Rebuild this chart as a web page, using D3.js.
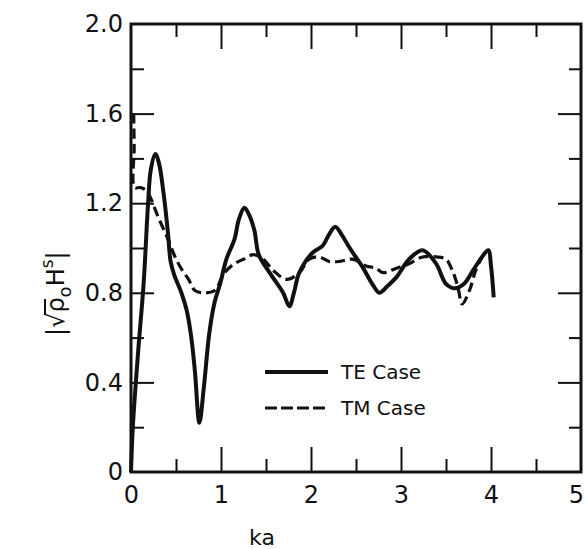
<!DOCTYPE html>
<html>
<head>
<meta charset="utf-8">
<script src="https://cdn.jsdelivr.net/npm/d3@7"></script>
<style>
body { margin: 0; background: #fff; }
svg { display: block; }
text { font-family: "DejaVu Sans", sans-serif; fill: #111; }
</style>
</head>
<body>
<div></div>
<script>
// TE case (solid)
var kaTE = [0, 0.02, 0.08, 0.14, 0.19, 0.22, 0.27, 0.31, 0.36, 0.41, 0.44, 0.48, 0.56, 0.62, 0.67, 0.71, 0.76,
	0.81, 0.87, 0.93, 0.99, 1.06, 1.15, 1.2, 1.26, 1.31, 1.37, 1.42, 1.54, 1.69, 1.76, 1.81, 1.87, 2.02, 2.13,
	2.2, 2.27, 2.34, 2.43, 2.58, 2.68, 2.76, 2.85, 2.95, 3.09, 3.24, 3.39, 3.5, 3.6, 3.7, 3.8, 3.9, 3.97, 4.0, 4.03];
var valTE = [0, 0.2, 0.54, 0.84, 1.2, 1.35, 1.42, 1.38, 1.25, 1.07, 0.94, 0.88, 0.8, 0.72, 0.6, 0.45, 0.22,
	0.38, 0.62, 0.76, 0.84, 0.95, 1.04, 1.13, 1.18, 1.15, 1.08, 0.97, 0.89, 0.8, 0.74, 0.8, 0.89, 0.98, 1.01,
	1.06, 1.095, 1.06, 1.0, 0.91, 0.84, 0.8, 0.83, 0.87, 0.95, 0.99, 0.93, 0.84, 0.82, 0.84, 0.9, 0.96, 0.99, 0.92, 0.78];

// TM case (dashed)
var kaTM = [0.03, 0.035, 0.04, 0.1, 0.16, 0.21, 0.3, 0.4, 0.49, 0.57, 0.64, 0.71, 0.82, 0.93, 1.04, 1.15, 1.25,
	1.36, 1.47, 1.58, 1.73, 1.87, 1.98, 2.09, 2.2, 2.32, 2.46, 2.61, 2.72, 2.8, 2.95, 3.09, 3.24, 3.39, 3.5,
	3.57, 3.63, 3.68, 3.76, 3.83, 3.9];
var valTM = [1.6, 1.45, 1.27, 1.27, 1.26, 1.23, 1.14, 1.05, 0.96, 0.9, 0.86, 0.81, 0.8, 0.81, 0.89, 0.93, 0.95,
	0.97, 0.95, 0.9, 0.86, 0.89, 0.95, 0.96, 0.94, 0.94, 0.95, 0.92, 0.91, 0.89, 0.91, 0.93, 0.96, 0.96, 0.95,
	0.9, 0.83, 0.75, 0.81, 0.9, 0.96];

var xMajor = [0, 1, 2, 3, 4, 5];
var xMinor = [0.5, 1.5, 2.5, 3.5, 4.5];
var yMajor = [0, 0.4, 0.8, 1.2, 1.6, 2.0];
var yMinor = [0.2, 0.6, 1.0, 1.4, 1.8];
var yLabels = ["0", "0.4", "0.8", "1.2", "1.6", "2.0"];
var legendNames = ["TE Case", "TM Case"];

var svg = d3.select("body").select("div").append("svg")
	.attr("width", 587)
	.attr("height", 549);

var x = d3.scaleLinear().domain([0, 5]).range([131, 581]);
var y = d3.scaleLinear().domain([0, 2]).range([472, 24]);

var axisGroup = svg.append("g");

// ticks on all four sides, pointing inward
function tickAxis(axisFn, scale, vals, size, tx, ty) {
	axisGroup.append("g")
		.attr("transform", "translate(" + tx + "," + ty + ")")
		.call(axisFn(scale).tickValues(vals).tickSize(size).tickFormat(""))
		.call(function(g) { g.select(".domain").remove(); })
		.selectAll("line").attr("stroke", "#111").attr("stroke-width", 2);
}
tickAxis(d3.axisBottom, x, xMajor.slice(1, 5), -25, 0, 472);
tickAxis(d3.axisBottom, x, xMinor, -13, 0, 472);
tickAxis(d3.axisTop, x, xMajor.slice(1, 5), -25, 0, 24);
tickAxis(d3.axisTop, x, xMinor, -13, 0, 24);
tickAxis(d3.axisLeft, y, yMajor.slice(1, 5), -23, 131, 0);
tickAxis(d3.axisLeft, y, yMinor, -13, 131, 0);
tickAxis(d3.axisRight, y, yMajor.slice(1, 5), -23, 581, 0);
tickAxis(d3.axisRight, y, yMinor, -12, 581, 0);

// frame
axisGroup.append("rect")
	.attr("x", x(0)).attr("y", y(2))
	.attr("width", x(5) - x(0)).attr("height", y(0) - y(2))
	.attr("fill", "none").attr("stroke", "#111").attr("stroke-width", 3);

// tick labels
var xAxis = svg.append("g")
	.attr("transform", "translate(0,472)")
	.call(d3.axisBottom(x).tickValues(xMajor).tickSize(0).tickPadding(14).tickFormat(d3.format("d")));
xAxis.select(".domain").remove();
xAxis.selectAll("text").style("font-size", "24px").style("font-family", "DejaVu Sans").attr("fill", "#111");
// the last label sits at the page edge; pull it in a little
xAxis.selectAll("text").filter(function(d) { return d === 5; }).attr("dx", -5);

var yAxis = svg.append("g")
	.attr("transform", "translate(131,0)")
	.call(d3.axisLeft(y).tickValues(yMajor).tickSize(0).tickPadding(8)
		.tickFormat(function(d, i) { return yLabels[i]; }));
yAxis.select(".domain").remove();
yAxis.selectAll("text").style("font-size", "24px").style("font-family", "DejaVu Sans").attr("fill", "#111");

svg.append("text")
	.attr("x", 262).attr("y", 545)
	.attr("text-anchor", "middle")
	.style("font-size", "22px")
	.text("ka");

// y axis title |√ρo H^s|
var yTitle = svg.append("g").attr("transform", "translate(64,292) rotate(-90)");
var t = yTitle.append("text").attr("x", -44).attr("y", 0).style("font-size", "24px");
t.append("tspan").text("|√");
t.append("tspan").text("ρ");
t.append("tspan").attr("dy", 7).style("font-size", "18px").text("o");
t.append("tspan").attr("dy", -7).text("H");
t.append("tspan").attr("dy", -11).style("font-size", "17px").text("s");
t.append("tspan").attr("dy", 11).text("|");
yTitle.append("line")
	.attr("x1", -23).attr("x2", -7)
	.attr("y1", -19).attr("y2", -19)
	.attr("stroke", "#111").attr("stroke-width", 2);

// curves
var line = d3.line()
	.x(function(d) { return x(d[0]); })
	.y(function(d) { return y(d[1]); })
	.curve(d3.curveCatmullRom.alpha(0.5));

var teData = d3.zip(kaTE, valTE);
var tmData = d3.zip(kaTM, valTM);

svg.append("path")
	.datum(tmData)
	.attr("d", line)
	.attr("fill", "none")
	.attr("stroke", "#111")
	.attr("stroke-width", 3.2)
	.attr("stroke-dasharray", "10,5");

svg.append("path")
	.datum(teData)
	.attr("d", line)
	.attr("fill", "none")
	.attr("stroke", "#111")
	.attr("stroke-width", 4)
	.attr("stroke-linejoin", "round");

// legend
var legend = svg.append("g");
legendNames.forEach(function(name, i) {
	var ly = 372 + i * 36;
	legend.append("line")
		.attr("x1", 265).attr("x2", 328)
		.attr("y1", ly).attr("y2", ly)
		.attr("stroke", "#111")
		.attr("stroke-width", i === 0 ? 4 : 3.2)
		.attr("stroke-dasharray", i === 0 ? null : "12,4");
	legend.append("text")
		.attr("x", 341).attr("y", ly + 7)
		.style("font-size", "20px")
		.text(name);
});
</script>
</body>
</html>
